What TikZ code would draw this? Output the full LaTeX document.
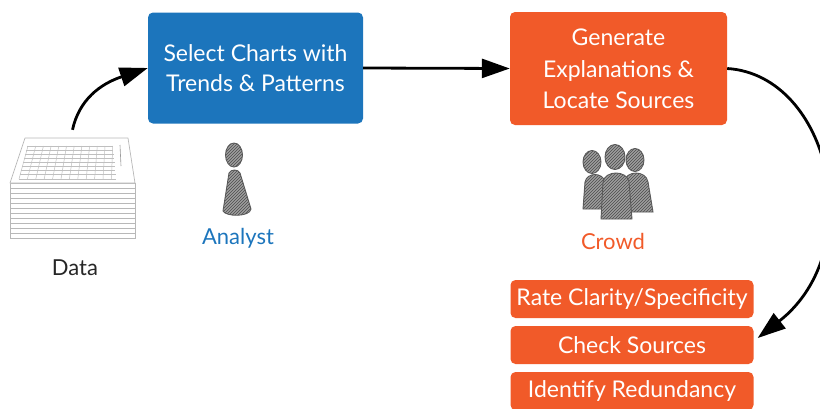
\documentclass[tikz,border=0pt]{standalone}
\usepackage{fontspec}
\setmainfont{Lato}
\usetikzlibrary{arrows.meta,patterns}
\definecolor{stepblue}{HTML}{1C75BC}
\definecolor{steporange}{HTML}{F15A29}
\definecolor{sheetline}{HTML}{B8B8B8}
\begin{document}
\begin{tikzpicture}[x=1pt,y=-1pt,
  stage/.style={rounded corners=5pt, text=white, align=center, inner sep=0pt,
    font=\fontsize{23}{30.5}\selectfont},
  task/.style={fill=steporange, rounded corners=5pt, text=white,
    minimum width=243pt, minimum height=38pt, inner sep=0pt,
    font=\fontsize{23}{26}\selectfont},
  flow/.style={line width=2.8pt, -{Triangle[length=28pt,width=19pt]}},
  person/.style={draw=black!65, line width=0.9pt, preaction={fill=black!38},
    pattern=north east lines, pattern color=black!70},
  caption/.style={font=\fontsize{22}{24}\selectfont, inner sep=0pt, text=black!85}
]
\useasboundingbox (0,0) rectangle (820,408);

% process stages
\node[stage, fill=stepblue, minimum width=215pt, minimum height=111pt]
  (select) at (255.5,68) {Select Charts with\\Trends \& Patterns};
\node[stage, fill=steporange, minimum width=217pt, minimum height=113pt]
  (explain) at (618.5,68.5) {\raisebox{2pt}{Generate}\\Explanations \&\\Locate Sources};

% crowd tasks
\node[task] (rate)  at (632,299) {Rate Clarity/Specificity};
\node[task] (check) at (632,345) {Check Sources};
\node[task] (redund) at (632,391) {Identify Redundancy};

% data stack
\node[minimum width=126pt, minimum height=100pt, inner sep=0pt] (data) at (72.5,188) {};
\draw[sheetline, fill=white, line width=0.7pt] (10,183) rectangle (135,238);
\foreach \k in {1,...,10}
  \draw[sheetline, line width=0.7pt] (10,183+5*\k) -- (135,183+5*\k);
\draw[sheetline, fill=white, line width=0.7pt, line join=round]
  (25,138) -- (128,138) -- (135,183) -- (10,183) -- cycle;
\foreach \r in {0,...,8}
  \draw[black!25, line width=0.5pt] ({27-0.25*4.1*\r},{146+4.1*\r}) -- ({113+0.1*4.1*\r},{146+4.1*\r});
\foreach \c in {0,...,11}
  \draw[black!25, line width=0.5pt] ({28+7.7*\c},146) -- ({19+8.4*\c},179);
\draw[black!40, line width=0.6pt] (120,145) -- (121,166);
\node[caption] (datalabel) at (75,268) {Data};

% analyst figure
\draw[person] (229,173) .. controls (231,169) and (238,169) .. (240,173)
  -- (251,209) .. controls (250,217) and (226,217) .. (223,211) -- cycle;
\draw[person] (234,155) ellipse [x radius=8.5pt, y radius=12pt];
\node[caption, text=stepblue] (analyst) at (238,238) {Analyst};

% crowd figure
\draw[person] (622,212) -- (624,182) .. controls (626,170) and (646,170) .. (648,182) -- (653,212) -- cycle;
\draw[person] (635,160) ellipse [x radius=9pt, y radius=11.5pt];
\draw[person] (583,209) -- (585,182) .. controls (587,172) and (603,172) .. (605,182) -- (608,209) -- cycle;
\draw[person] (592,162) ellipse [x radius=9pt, y radius=11.5pt];
\draw[person] (601,219) -- (603,182) .. controls (605,170) and (627,170) .. (629,182) -- (632,219) -- cycle;
\draw[person] (615,157) ellipse [x radius=10pt, y radius=12.5pt];
\node[caption, text=steporange] (crowd) at (613,241) {Crowd};

% connectors
\draw[flow] ([yshift=8pt]data.north) .. controls (79,100) and (100,84) .. (select.west);
\draw[flow] (select.east) -- (explain.west);
\draw[flow] (explain.east) .. controls (830,75) and (870,250) .. ([xshift=4pt,yshift=7pt]check.east);
\end{tikzpicture}
\end{document}
